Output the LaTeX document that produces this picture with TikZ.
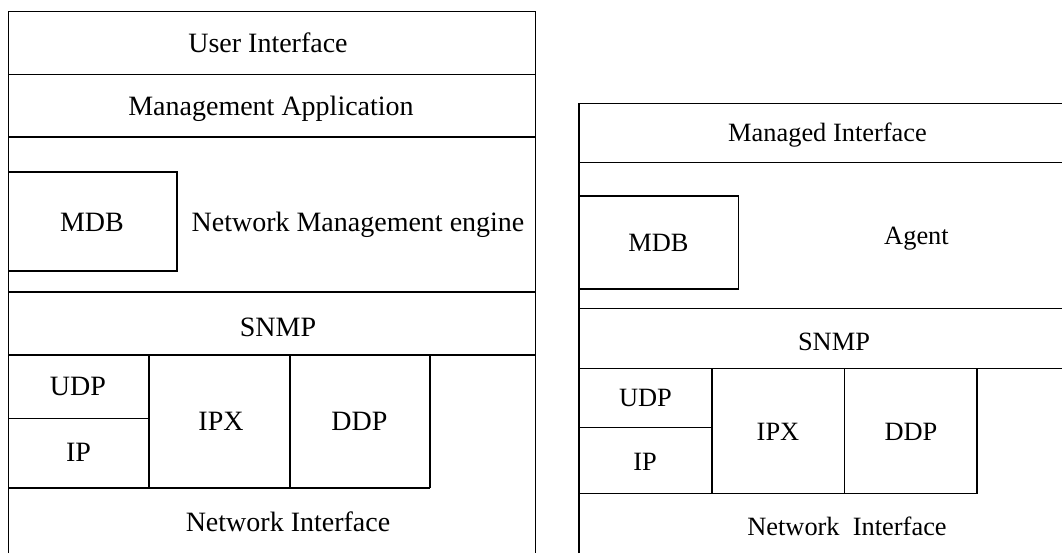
\documentclass[tikz,border=0pt]{standalone}
\usepackage{fontspec}
\setmainfont{Liberation Serif}

\begin{document}
\begin{tikzpicture}[x=0.5pt,y=-0.5pt,line width=0.65pt,
  lbl/.style={anchor=base,inner sep=0pt,font=\fontsize{14}{16}\selectfont},
  rlbl/.style={anchor=base,inner sep=0pt,font=\fontsize{13.2}{15}\selectfont}]

  \useasboundingbox (0,0) rectangle (1062,553);

  % manager stack
  \draw (8.5,553) -- (8.5,11.5) -- (535.5,11.5) -- (535.5,553);
  \foreach \y in {74.5,137,292,355}
    \draw (8.5,\y) -- (535.5,\y);
  \draw (8.5,172) rectangle (177,271);
  \draw (8.5,488) -- (430,488);
  \foreach \x in {149,290,430}
    \draw (\x,355) -- (\x,488);
  \draw (8.5,418.5) -- (149,418.5);

  \node[lbl] (mui)   at (268,52)    {User Interface};
  \node[lbl] (mapp)  at (271,115)   {Management Application};
  \node[lbl] (mdb)   at (92,231)    {MDB};
  \node[lbl] (nme)   at (358,231.5) {Network Management engine};
  \node[lbl] (msnmp) at (278,336.5) {SNMP};
  \node[lbl] (mudp)  at (78,395)    {UDP};
  \node[lbl] (mip)   at (78.5,461.5){IP};
  \node[lbl] (mipx)  at (221,430.5) {IPX};
  \node[lbl] (mddp)  at (359.5,430.5){DDP};
  \node[lbl] (mni)   at (288,531.5) {Network Interface};

  % agent stack
  \draw (579,553) -- (579,103.5) -- (1062,103.5);
  \foreach \y in {162.5,308.5,368.5}
    \draw (579,\y) -- (1062,\y);
  \draw (579,196) rectangle (738.5,289);
  \draw (579,493.5) -- (977,493.5);
  \foreach \x in {712,844.5,977}
    \draw (\x,368.5) -- (\x,493.5);
  \draw (579,427.5) -- (712,427.5);

  \node[rlbl] (ami)   at (827.5,141.5) {Managed Interface};
  \node[rlbl] (adb)   at (658.5,251.5) {MDB};
  \node[rlbl] (agent) at (916.5,244)   {Agent};
  \node[rlbl] (asnmp) at (834,350.5)   {SNMP};
  \node[rlbl] (audp)  at (645.5,406.5) {UDP};
  \node[rlbl] (aip)   at (645,470)     {IP};
  \node[rlbl] (aipx)  at (778,440)     {IPX};
  \node[rlbl] (addp)  at (911,440)     {DDP};
  \node[rlbl] (ani)   at (847,535)     {Network~ Interface};

\end{tikzpicture}
\end{document}
